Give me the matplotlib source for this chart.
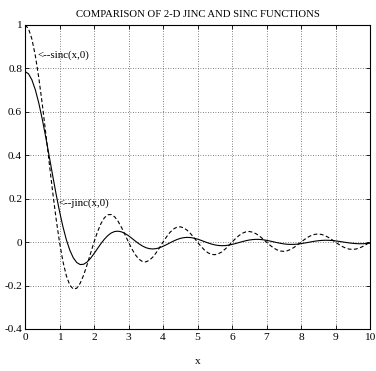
import matplotlib
matplotlib.use("Agg")
import matplotlib.pyplot as plt

# sample abscissas
x_vals = [0.0, 0.1, 0.2, 0.3, 0.4, 0.5, 0.6, 0.7, 0.8, 0.9,
          1.0, 1.1, 1.2, 1.3, 1.4, 1.5, 1.6, 1.7, 1.8, 1.9,
          2.0, 2.1, 2.2, 2.3, 2.4, 2.5, 2.6, 2.7, 2.8, 2.9,
          3.0, 3.1, 3.2, 3.3, 3.4, 3.5, 3.6, 3.7, 3.8, 3.9,
          4.0, 4.1, 4.2, 4.3, 4.4, 4.5, 4.6, 4.7, 4.8, 4.9,
          5.0, 5.1, 5.2, 5.3, 5.4, 5.5, 5.6, 5.7, 5.8, 5.9,
          6.0, 6.1, 6.2, 6.3, 6.4, 6.5, 6.6, 6.7, 6.8, 6.9,
          7.0, 7.1, 7.2, 7.3, 7.4, 7.5, 7.6, 7.7, 7.8, 7.9,
          8.0, 8.1, 8.2, 8.3, 8.4, 8.5, 8.6, 8.7, 8.8, 8.9,
          9.0, 9.1, 9.2, 9.3, 9.4, 9.5, 9.6, 9.7, 9.8, 9.9,
          10.0]

sinc_vals = [1.0, 0.9836, 0.9355, 0.8584, 0.7568, 0.6366, 0.5046, 0.3679, 0.2339, 0.1093,
             0.0, -0.0894, -0.1559, -0.1981, -0.2162, -0.2122, -0.1892, -0.1515, -0.1039, -0.0518,
             0.0, 0.0468, 0.0850, 0.1120, 0.1261, 0.1273, 0.1164, 0.0954, 0.0668, 0.0339,
             0.0, -0.0317, -0.0585, -0.0780, -0.0890, -0.0909, -0.0841, -0.0696, -0.0492, -0.0252,
             0.0, 0.0240, 0.0446, 0.0599, 0.0688, 0.0707, 0.0658, 0.0548, 0.0390, 0.0201,
             0.0, -0.0193, -0.0360, -0.0486, -0.0561, -0.0579, -0.0541, -0.0452, -0.0323, -0.0167,
             0.0, 0.0161, 0.0302, 0.0409, 0.0473, 0.0490, 0.0459, 0.0384, 0.0275, 0.0143,
             0.0, -0.0139, -0.0260, -0.0353, -0.0409, -0.0424, -0.0398, -0.0334, -0.0240, -0.0125,
             0.0, 0.0121, 0.0228, 0.0310, 0.0360, 0.0375, 0.0352, 0.0296, 0.0213, 0.0111,
             0.0, -0.0108, -0.0203, -0.0277, -0.0322, -0.0335, -0.0315, -0.0266, -0.0191, -0.0099,
             0.0]

jinc_vals = [0.7854, 0.7757, 0.7473, 0.7014, 0.6402, 0.5668, 0.4846, 0.3972, 0.3086, 0.2225,
             0.1423, 0.0709, 0.0104, -0.0375, -0.0722, -0.0939, -0.1033, -0.1018, -0.0914, -0.0744,
             -0.0531, -0.0299, -0.0071, 0.0134, 0.0302, 0.0423, 0.0490, 0.0505, 0.0472, 0.0398,
             0.0295, 0.0173, 0.0047, -0.0072, -0.0174, -0.0252, -0.0299, -0.0314, -0.0299, -0.0257,
             -0.0193, -0.0116, -0.0034, 0.0046, 0.0117, 0.0171, 0.0206, 0.0219, 0.0211, 0.0183,
             0.0139, 0.0085, 0.0025, -0.0033, -0.0085, -0.0126, -0.0153, -0.0164, -0.0159, -0.0139,
             -0.0106, -0.0065, -0.0020, 0.0025, 0.0065, 0.0098, 0.0119, 0.0129, 0.0125, 0.0110,
             0.0084, 0.0052, 0.0016, -0.0020, -0.0052, -0.0079, -0.0097, -0.0104, -0.0102, -0.0090,
             -0.0069, -0.0043, -0.0014, 0.0016, 0.0043, 0.0065, 0.0080, 0.0087, 0.0085, 0.0075,
             0.0058, 0.0036, 0.0012, -0.0013, -0.0036, -0.0055, -0.0068, -0.0074, -0.0072, -0.0064,
             -0.0050]

x_ticks = [0, 1, 2, 3, 4, 5, 6, 7, 8, 9, 10]
x_tick_labels = ["0", "1", "2", "3", "4", "5", "6", "7", "8", "9", "10"]
y_ticks = [-0.4, -0.2, 0.0, 0.2, 0.4, 0.6, 0.8, 1.0]
y_tick_labels = ["-0.4", "-0.2", "0", "0.2", "0.4", "0.6", "0.8", "1"]

title_text = "COMPARISON OF 2-D JINC AND SINC FUNCTIONS"
xlabel_text = "x"
sinc_label = "<--sinc(x,0)"
jinc_label = "<--jinc(x,0)"

plt.rcParams['font.family'] = ['Liberation Serif', 'DejaVu Serif']
plt.rcParams['axes.unicode_minus'] = False
FS_TICK = 8.2
FS_TITLE = 7.7
FS_TEXT = 7.8

fig = plt.figure(figsize=(3.76, 3.71), dpi=100)
ax = fig.add_axes([25/376, 1 - 329/371, 345/376, 304/371])

ax.plot(x_vals, jinc_vals, color='black', linewidth=0.8, linestyle='-')
ax.plot(x_vals, sinc_vals, color='black', linewidth=0.8, linestyle=(0, (3.5, 2.2)))

ax.set_xlim(0, 10)
ax.set_ylim(-0.4, 1.0)
ax.set_xticks(x_ticks)
ax.set_xticklabels(x_tick_labels, fontsize=FS_TICK)
ax.set_yticks(y_ticks)
ax.set_yticklabels(y_tick_labels, fontsize=FS_TICK)
ax.tick_params(direction='in', length=3, width=0.6, top=True, right=True, pad=3)
ax.tick_params(axis='y', pad=2)

ax.grid(True, linestyle=(0, (1, 2)), color='0.35', linewidth=0.6)
for sp in ax.spines.values():
    sp.set_linewidth(0.8)
    sp.set_color('black')

ax.set_title(title_text, fontsize=FS_TITLE, pad=6)
ax.set_xlabel(xlabel_text, fontsize=FS_TICK, labelpad=11)

ax.text(0.35, 0.86, sinc_label, fontsize=FS_TEXT, ha='left', va='center')
ax.text(0.98, 0.18, jinc_label, fontsize=FS_TEXT, ha='left', va='center')

fig.savefig("out.png", dpi=100)
